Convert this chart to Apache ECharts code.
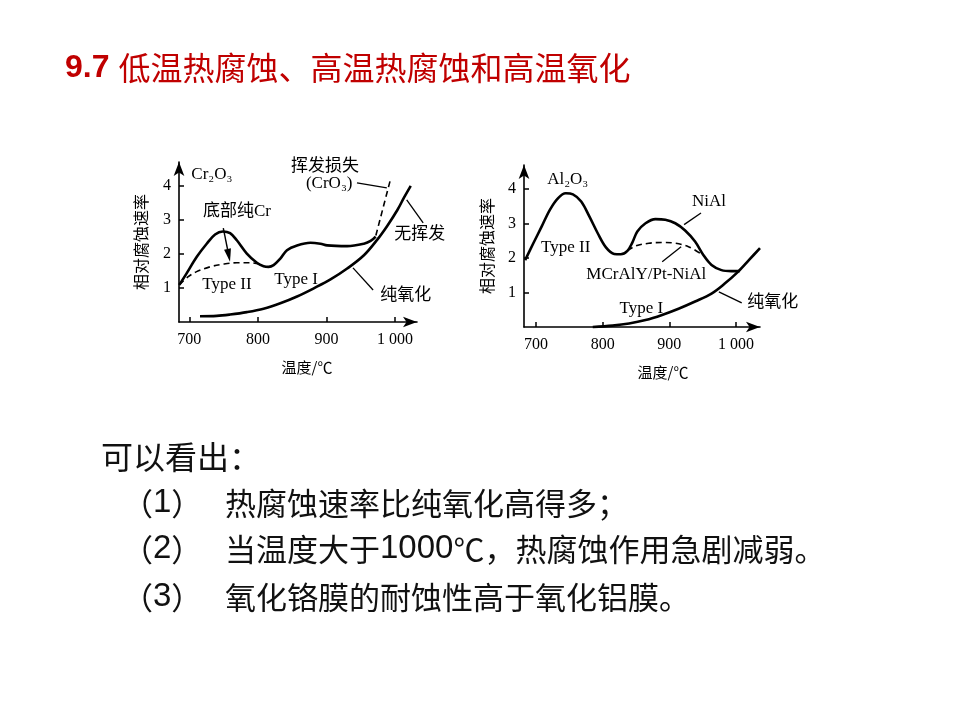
<!DOCTYPE html>
<html><head><meta charset="utf-8">
<script src="https://cdn.jsdelivr.net/npm/echarts@6/dist/echarts.min.js"></script>
<style>html,body{margin:0;padding:0;background:#fff}#c{width:960px;height:720px}</style>
</head><body><div id="c"></div>
<script>
// ---- tick labels ----
const xTicks = [700, 800, 900, 1000];
const xTickLabels = ['700', '800', '900', '1 000'];
const yTicks = [1, 2, 3, 4];

// ---- left chart (Cr2O3) ----
const leftCorrosion = [[685.4,1.09],[696.1,1.43],[710.7,1.91],[725.4,2.30],[737.6,2.57],[748.8,2.66],[759.5,2.61],[769.3,2.40],[783.9,2.01],[798.5,1.74],[808.3,1.64],[815.6,1.62],[822.9,1.67],[832.7,1.86],[842.4,2.11],[857.1,2.25],[876.6,2.33],[891.2,2.30],[901,2.25],[930.2,2.23],[954.6,2.30],[964.4,2.38],[971.7,2.51]];
const leftBaseCr = [[685.4,1.09],[698.5,1.33],[710.7,1.48],[730.2,1.62],[749.8,1.70],[769.3,1.74],[788.8,1.74],[803.4,1.70]];
const leftOxidation = [[715.6,0.17],[740,0.18],[759.5,0.22],[783.9,0.29],[808.3,0.39],[832.7,0.55],[857.1,0.75],[881.5,0.99],[905.9,1.25],[930.2,1.57],[954.6,1.96],[974.1,2.42],[988.8,2.83],[1003.4,3.29],[1013.2,3.66],[1022.9,4.0]];
const leftVolatile = [[972,2.54],[994,4.24]];

// ---- right chart (Al2O3) ----
const rightNiAl = [[683.7,1.94],[696.0,2.43],[708.4,2.91],[720.8,3.40],[733.2,3.74],[744.6,3.88],[755.4,3.85],[767.8,3.64],[780.2,3.20],[792.6,2.72],[804.9,2.31],[817.3,2.12],[827.2,2.11],[837.1,2.21],[844.5,2.45],[852,2.77],[864.3,3.01],[879.2,3.13],[894,3.11],[908.9,3.01],[923.7,2.80],[938.6,2.48],[951,2.09],[963.3,1.80],[978.2,1.65],[993,1.62],[1005.4,1.62]];
const rightMCrAlY = [[837.1,2.21],[849.5,2.35],[869.3,2.43],[889.1,2.45],[908.9,2.43],[928.7,2.33],[946,2.14]];
const rightOxidation = [[785.1,0.0],[814.8,0.04],[839.6,0.10],[864.3,0.20],[889.1,0.35],[913.8,0.53],[938.6,0.74],[963.3,0.97],[983.1,1.26],[1002.9,1.60],[1020.3,1.96],[1036,2.29]];

// ---- annotations (data coordinates) ----
const leftLabels = [['Cr₂O₃',733,4.32],['挥发损失',898,4.58],['(CrO₃)',904,4.07],['底部纯Cr',769.6,3.24],['无挥发',1036,2.56],['Type II',755,1.09],['Type I',855.6,1.24],['纯氧化',1015.7,0.79]];
const leftLeaders = [[[944.5,4.09],[988,3.94]],[[1017,3.59],[1041,2.91]],[[938.7,1.59],[968,0.94]]];
const leftArrow = [[749.6,2.76],[759.4,1.77]];
const rightLabels = [['Al₂O₃',747.6,4.27],['NiAl',959.4,3.63],['Type II',744.6,2.30],['MCrAlY/Pt-NiAl',865.5,1.51],['Type I',858,0.55],['纯氧化',1055,0.70]];
const rightLeaders = [[[922.1,2.97],[947.5,3.31]],[[889.3,1.89],[917.7,2.33]],[[974.3,1.02],[1008.6,0.70]]];

// ---- slide text ----
const titleNum = '9.7 ';
const titleText = '低温热腐蚀、高温热腐蚀和高温氧化';
const introText = '可以看出：';
const pointNums = ['1', '2', '3'];
const pointTexts = [
  [['c', '热腐蚀速率比纯氧化高得多；']],
  [['c', '当温度大于'], ['d', '1000'], ['c', '℃，热腐蚀作用急剧减弱。']],
  [['c', '氧化铬膜的耐蚀性高于氧化铝膜。']]
];

const SERIF = 'Liberation Serif, "Times New Roman", "Noto Sans CJK SC", serif';
const CJK = '"Noto Sans CJK SC", sans-serif';

function xAxis(gi, min, max, padLeft) {
  return {
    gridIndex: gi, type: 'value', min: min, max: max,
    axisLine: {show: true, onZero: false, symbol: ['none', 'arrow'], symbolSize: [8, 14], lineStyle: {color: '#000', width: 1.6}},
    axisTick: {show: true, inside: true, length: 5, customValues: xTicks, lineStyle: {color: '#000', width: 1.5}},
    axisLabel: {customValues: xTicks, formatter: v => xTickLabels[xTicks.indexOf(v)], color: '#000', fontFamily: SERIF, fontSize: 16, margin: 10},
    splitLine: {show: false},
    name: '温度/℃', nameLocation: 'middle', nameGap: 38,
    nameTextStyle: {color: '#000', fontFamily: CJK, fontSize: 15, padding: [0, 0, 0, padLeft]}
  };
}
function yAxis(gi, gap) {
  return {
    gridIndex: gi, type: 'value', min: 0, max: 4.7,
    axisLine: {show: true, onZero: false, symbol: ['none', 'arrow'], symbolSize: [8, 14], lineStyle: {color: '#000', width: 1.6}},
    axisTick: {show: true, inside: true, length: 5, customValues: yTicks, lineStyle: {color: '#000', width: 1.5}},
    axisLabel: {customValues: yTicks, color: '#000', fontFamily: SERIF, fontSize: 16, margin: 8},
    splitLine: {show: false},
    name: '相对腐蚀速率', nameLocation: 'middle', nameGap: gap, nameRotate: 90,
    nameTextStyle: {color: '#000', fontFamily: CJK, fontSize: 16}
  };
}
function line(data, gi, dashed, width) {
  return {
    type: 'line', xAxisIndex: gi, yAxisIndex: gi, data: data, smooth: 0.35,
    showSymbol: false, symbol: 'none', silent: true, clip: false,
    lineStyle: {color: '#000', width: width, type: dashed ? [6, 4] : 'solid'}
  };
}

const chart = echarts.init(document.getElementById('c'), null, {renderer: 'canvas'});
chart.setOption({
  animation: false,
  backgroundColor: '#fff',
  grid: [
    {left: 179, top: 162, width: 238, height: 160},
    {left: 524, top: 165, width: 236, height: 162}
  ],
  xAxis: [xAxis(0, 685, 1032, 18), xAxis(1, 682, 1036, 42)],
  yAxis: [yAxis(0, 30), yAxis(1, 29)],
  series: [
    line(leftCorrosion, 0, false, 2.6),
    line(leftBaseCr, 0, true, 1.6),
    line(leftOxidation, 0, false, 2.6),
    Object.assign(line(leftVolatile, 0, true, 1.6), {smooth: false}),
    line(rightNiAl, 1, false, 2.6),
    line(rightMCrAlY, 1, true, 1.6),
    line(rightOxidation, 1, false, 2.6)
  ]
});

function px(gi, p) { return chart.convertToPixel({gridIndex: gi}, p); }
const g = [];
function addLabels(gi, list) {
  list.forEach(([t, x, y]) => {
    const p = px(gi, [x, y]);
    g.push({type: 'text', x: p[0], y: p[1], style: {text: t, fill: '#000', font: '17px ' + SERIF, textAlign: 'center', textVerticalAlign: 'middle'}});
  });
}
function addLeaders(gi, list) {
  list.forEach(([a, b]) => {
    const p1 = px(gi, a), p2 = px(gi, b);
    g.push({type: 'line', shape: {x1: p1[0], y1: p1[1], x2: p2[0], y2: p2[1]}, style: {stroke: '#000', lineWidth: 1.3}});
  });
}
addLabels(0, leftLabels);
addLabels(1, rightLabels);
addLeaders(0, leftLeaders);
addLeaders(1, rightLeaders);
(function () {
  const p1 = px(0, leftArrow[0]), p2 = px(0, leftArrow[1]);
  const dx = p2[0] - p1[0], dy = p2[1] - p1[1], L = Math.hypot(dx, dy);
  const ux = dx / L, uy = dy / L, hl = 13, hw = 3.5;
  const bx = p2[0] - ux * hl, by = p2[1] - uy * hl;
  g.push({type: 'line', shape: {x1: p1[0], y1: p1[1], x2: bx, y2: by}, style: {stroke: '#000', lineWidth: 1.4}});
  g.push({type: 'polygon', shape: {points: [[p2[0], p2[1]], [bx - uy * hw, by + ux * hw], [bx + uy * hw, by - ux * hw]]}, style: {fill: '#000'}});
})();

// slide texts
g.push({type: 'text', x: 65, y: 68, style: {
  text: '{a|' + titleNum + '}{b|' + titleText + '}', textVerticalAlign: 'middle',
  rich: {a: {fontFamily: 'Liberation Sans, Arial, sans-serif', fontWeight: 'bold', fontSize: 32, fill: '#C00000'},
         b: {fontFamily: CJK, fontSize: 32, fill: '#C00000'}}
}});
g.push({type: 'text', x: 101, y: 457, style: {text: introText, fill: '#111', font: '32px ' + CJK, textVerticalAlign: 'middle'}});
const lineY = [503, 549, 597];
const richBody = {
  c: {fontFamily: CJK, fontSize: 31, fill: '#111'},
  d: {fontFamily: 'Liberation Sans, Arial, sans-serif', fontSize: 33, fill: '#111'}
};
pointTexts.forEach((segs, i) => {
  g.push({type: 'text', x: 122, y: lineY[i], style: {text: '{c|（}{d|' + pointNums[i] + '}{c|）}', rich: richBody, textVerticalAlign: 'middle'}});
  g.push({type: 'text', x: 225, y: lineY[i], style: {text: segs.map(([k, s]) => '{' + k + '|' + s + '}').join(''), rich: richBody, textVerticalAlign: 'middle'}});
});
chart.setOption({graphic: g});
</script></body></html>
